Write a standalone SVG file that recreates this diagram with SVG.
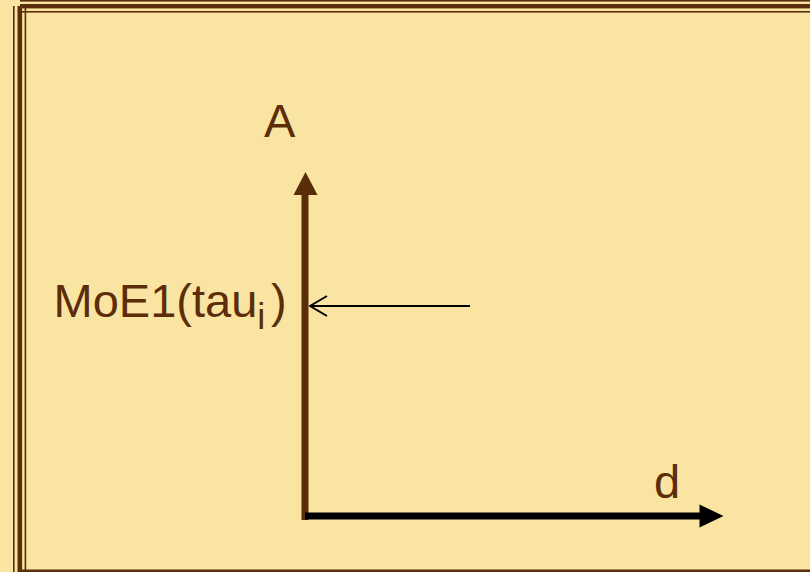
<svg xmlns="http://www.w3.org/2000/svg" width="810" height="572" viewBox="0 0 810 572">
  <defs>
    <style>
      .lbl { font-family: "Liberation Sans", Arial, sans-serif; fill: #5C2D0A; }
      .frame { fill: #5C2D0A; }
    </style>
    <marker id="openHead" markerUnits="userSpaceOnUse" markerWidth="20" markerHeight="24" refX="19" refY="12" orient="auto" viewBox="0 0 20 24">
      <path d="M2,2 L19,12 L2,22" fill="none" stroke="#000" stroke-width="2"/>
    </marker>
  </defs>
  <rect x="0" y="0" width="810" height="572" fill="#F9E5A1"/>
  <g id="frame">
    <rect class="frame" x="13" y="6" width="1.6" height="566"/>
    <rect class="frame" x="17.5" y="6" width="4.6" height="566"/>
    <rect class="frame" x="24.6" y="8" width="1.6" height="564"/>
    <rect class="frame" x="20" y="0" width="790" height="1.6"/>
    <rect class="frame" x="20" y="4" width="790" height="4.4"/>
    <rect class="frame" x="22" y="11" width="788" height="1.6"/>
    <rect class="frame" x="18" y="569.5" width="792" height="2.5"/>
  </g>
  <g id="connectors">
    <g id="y-axis">
      <rect x="301.5" y="190" width="7" height="330" fill="#5A2D0A"/>
      <polygon points="305.5,172 293.5,195 317.5,195" fill="#5A2D0A"/>
    </g>
    <g id="x-axis">
      <rect x="305" y="512.5" width="396" height="7" fill="#000"/>
      <polygon points="723.5,516 699.5,504.5 699.5,527.5" fill="#000"/>
    </g>
    <g id="pointer">
      <line x1="470" y1="306" x2="310" y2="306" stroke="#000" stroke-width="2" marker-end="url(#openHead)"/>
    </g>
  </g>
  <g id="label-A">
    <text class="lbl" x="279.7" y="137.3" font-size="47" text-anchor="middle">A</text>
  </g>
  <g id="label-d">
    <text class="lbl" x="654" y="497.7" font-size="47">d</text>
  </g>
  <g id="label-moe">
    <text class="lbl" x="53.5" y="317" font-size="47">MoE1(tau<tspan font-size="36" y="329.3">i</tspan><tspan x="271" y="317">)</tspan></text>
  </g>
</svg>
